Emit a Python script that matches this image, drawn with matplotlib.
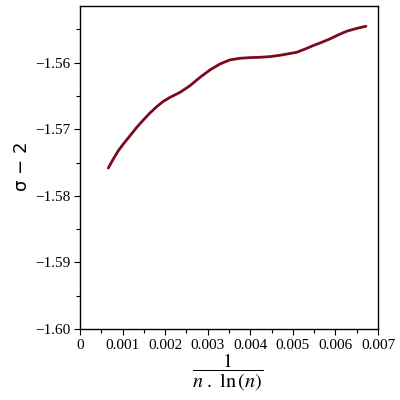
import matplotlib.pyplot as plt
from matplotlib.ticker import MultipleLocator, FuncFormatter

# values
x_vals = [0.000665, 0.000782, 0.000900, 0.001017, 0.001175, 0.001332, 0.001487,
          0.001644, 0.001802, 0.001957, 0.002114, 0.002349, 0.002584, 0.002819,
          0.003054, 0.003289, 0.003523, 0.003758, 0.003993, 0.004228, 0.004463,
          0.004698, 0.004916, 0.005090, 0.005285, 0.005480, 0.005678, 0.005872,
          0.006068, 0.006265, 0.006483, 0.006718]
y_vals = [-1.57583, -1.57448, -1.57323, -1.57223, -1.57098, -1.56973, -1.56862,
          -1.56756, -1.56662, -1.56582, -1.56522, -1.56447, -1.56346, -1.56221,
          -1.56110, -1.56020, -1.55959, -1.55935, -1.55925, -1.55920, -1.55910,
          -1.55890, -1.55865, -1.55845, -1.55797, -1.55744, -1.55695, -1.55644,
          -1.55583, -1.55529, -1.55489, -1.55454]

plt.rcParams['mathtext.fontset'] = 'stix'
plt.rcParams['font.family'] = ['Liberation Serif', 'DejaVu Serif']

fig = plt.figure(figsize=(4, 4), dpi=100)
ax = fig.add_axes([0.2, 0.1775, 0.745, 0.8075])

ax.plot(x_vals, y_vals, color='#7a0a1e', lw=2.0, solid_capstyle='round',
        solid_joinstyle='round')

ax.set_xlim(0, 0.007)
ax.set_ylim(-1.60, -1.5515)
ax.xaxis.set_major_locator(MultipleLocator(0.001))
ax.xaxis.set_minor_locator(MultipleLocator(0.0005))
ax.yaxis.set_major_locator(MultipleLocator(0.01))
ax.yaxis.set_minor_locator(MultipleLocator(0.005))
ax.xaxis.set_major_formatter(FuncFormatter(lambda v, p: '0' if abs(v) < 1e-9 else f'{v:.3f}'))
ax.yaxis.set_major_formatter(FuncFormatter(lambda v, p: f'\u2212{abs(v):.2f}'))
ax.tick_params(which='both', direction='out', top=False, right=False,
               labelsize=11, width=0.8)
ax.tick_params(which='major', length=4, pad=3)
ax.tick_params(which='minor', length=3)
for s in ax.spines.values():
    s.set_linewidth(1.0)

fig.text(0.055, 0.585, 'σ − 2', rotation=90, ha='center', va='center',
         fontsize=13, family='DejaVu Sans')
fig.text(0.57, 0.07, r'$\dfrac{1}{n\ .\ \mathrm{ln}\,(n)}$', ha='center',
         va='center', fontsize=14.5)

fig.savefig('out.png', dpi=100)
